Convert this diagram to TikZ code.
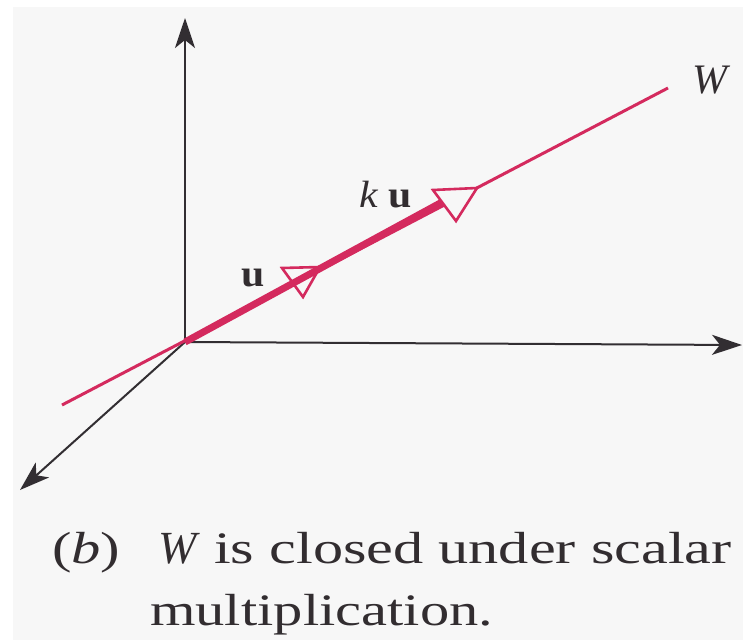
\documentclass[tikz,border=0pt]{standalone}
\usepackage{fontspec}
\setmainfont{Liberation Serif}[FakeStretch=1.3]
\newfontfamily\capwide{Liberation Serif}[FakeStretch=1.34]
\newfontfamily\labfont{Liberation Serif}[FakeStretch=1.1]
\newfontfamily\plainfont{Liberation Serif}
\usetikzlibrary{arrows.meta}
\definecolor{bg}{RGB}{247,247,247}
\definecolor{wred}{RGB}{212,42,94}
\definecolor{axc}{RGB}{50,46,50}
\definecolor{txt}{RGB}{50,45,48}
\tikzset{
  axis/.style={draw=axc, line width=2pt, -{Stealth[length=30pt,width=20pt,inset=8pt]}},
  wline/.style={draw=wred, line width=3pt},
  thickvec/.style={draw=wred, line width=7pt},
  tri/.style={draw=wred, line width=2.6pt, line join=miter},
  lab/.style={inner sep=0pt, anchor=base west, text=txt, font=\labfont\fontsize{38}{44}\selectfont},
  captext/.style={inner sep=0pt, anchor=base west, text=txt, font=\fontsize{45}{54}\selectfont}
}
\begin{document}
\begin{tikzpicture}[x=1pt,y=-1pt]
\useasboundingbox (0,0) rectangle (743,640);
\fill[white] (0,0) rectangle (743,640);
\fill[bg] (13,7) rectangle (743,640);
% coordinates
\coordinate (O) at (185,342);
\coordinate (Zt) at (185,18);
\coordinate (Xt) at (742,345);
\coordinate (Yt) at (20,490);
\coordinate (Wa) at (62,405);
\coordinate (Wb) at (668,88);
\coordinate (K) at (444,201);
\coordinate (u1) at (282,268);
\coordinate (u2) at (320,267);
\coordinate (u3) at (303,297);
\coordinate (k1) at (433,190);
\coordinate (k2) at (477,188);
\coordinate (k3) at (456,221);
% axes
\draw[axis] (O) -- (Zt);
\draw[axis] (O) -- (Xt);
\draw[axis] (O) -- (Yt);
% subspace line W
\draw[wline] (Wa) -- (Wb);
% vector ku
\draw[thickvec] (O) -- (K);
% open arrowheads
\draw[tri] (u1) -- (u2) -- (u3) -- cycle;
\filldraw[tri, fill=bg] (k1) -- (k2) -- (k3) -- cycle;
% labels
\node[lab] (lu) at (241,286) {\bfseries u};
\node[lab] (lku) at (359,207) {{\itshape k}\hspace{11pt}{\upshape\bfseries u}};
\node[lab, font=\plainfont\fontsize{42}{48}\selectfont] (lW) at (692,93) {\itshape W};
% caption
\node[captext] (c1) at (52,563) {(\textit{b})};
\node[captext, font=\plainfont\fontsize{46}{54}\selectfont] (c2) at (158,563) {\itshape W};
\node[captext, font=\capwide\fontsize{45}{54}\selectfont] (c3) at (214,563) {is closed under scalar};
\node[captext] (c4) at (150,625) {multiplication.};
\end{tikzpicture}
\end{document}
